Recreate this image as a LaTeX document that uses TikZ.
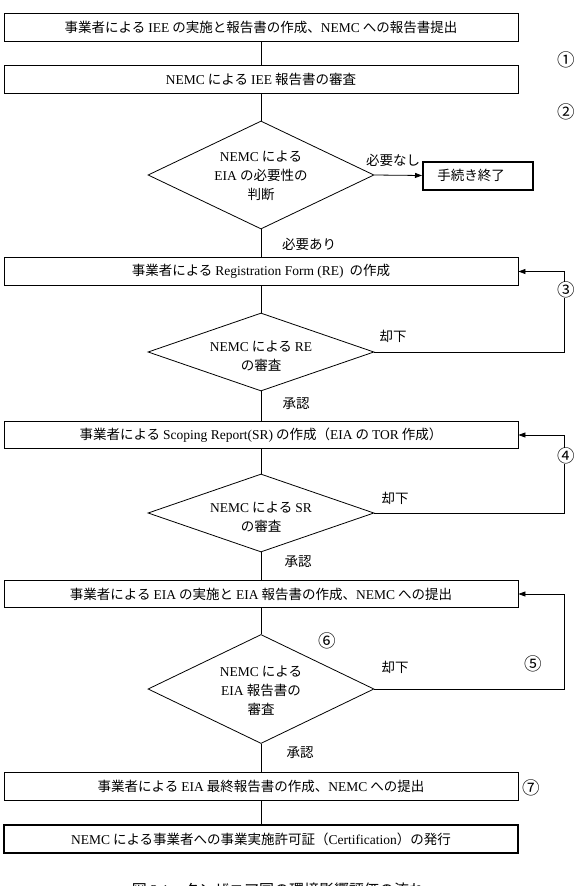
\documentclass[tikz,border=0pt]{standalone}
\usepackage{fontspec}
\setmainfont{Noto Sans CJK JP}
\newfontfamily\lat{Liberation Serif}
\newcommand\LT[1]{{\lat #1}}
\usetikzlibrary{shapes.geometric,arrows.meta}
\begin{document}
\begin{tikzpicture}[x=1pt,y=-1pt,
  font=\fontsize{13.5}{19}\selectfont,
  line width=0.8pt,
  proc/.style={draw, minimum width=514pt, minimum height=27.5pt, inner sep=0pt},
  procthick/.style={proc, line width=2pt},
  dia/.style={draw, diamond, inner sep=0pt, minimum width=226pt},
  dtext/.style={align=center, inner sep=0pt},
  lbl/.style={inner sep=0pt},
  num/.style={inner sep=0pt, font=\fontsize{17.5}{19}\selectfont},
  arr/.style={-{Triangle[length=7pt,width=5pt]}}]
\useasboundingbox (0,0) rectangle (576,886);

% boxes
\node[proc] (b1) at (261,27.5) {事業者による \LT{IEE} の実施と報告書の作成、\LT{NEMC} への報告書提出};
\node[proc] (b2) at (261,79.5) {\LT{NEMC} による \LT{IEE} 報告書の審査};
\node[dia, minimum height=108pt] (d1) at (261,175) {};
\node[dtext] (t1) at (261,176) {\LT{NEMC} による\\\LT{EIA} の必要性の\\判断};
\node[draw, line width=2pt, minimum width=110pt, minimum height=28pt, inner sep=0pt] (end) at (478,175.5) {};
\node[lbl] (endt) at (471,175.5) {手続き終了};
\node[proc] (b3) at (261,271.5) {事業者による \LT{Registration Form (RE)}\ \ の作成};
\node[dia, minimum height=78pt] (d2) at (261,352) {};
\node[dtext] (t2) at (261,356) {\LT{NEMC} による \LT{RE}\\の審査};
\node[proc] (b4) at (261,435) {事業者による \LT{Scoping Report(SR)}\ の作成（\LT{EIA} の \LT{TOR} 作成）};
\node[dia, minimum height=78pt] (d3) at (261,513) {};
\node[dtext] (t3) at (261,517) {\LT{NEMC} による \LT{SR}\\の審査};
\node[proc] (b5) at (261,594) {事業者による \LT{EIA} の実施と \LT{EIA} 報告書の作成、\LT{NEMC} への提出};
\node[dia, minimum height=109pt] (d4) at (261,689) {};
\node[dtext] (t4) at (261,691) {\LT{NEMC} による\\\LT{EIA} 報告書の\\審査};
\node[proc] (b6) at (261,786.5) {事業者による \LT{EIA} 最終報告書の作成、\LT{NEMC} への提出};
\node[procthick] (b7) at (261,839) {\LT{NEMC} による事業者への事業実施許可証（\LT{Certification}）の発行};

% connectors
\coordinate (r) at (564,0);
\draw (b1.south) -- (b2.north);
\draw (b2.south) -- (d1.north);
\draw[arr] (d1.east) -- (end.west);
\draw (d1.south) -- (b3.north);
\draw (b3.south) -- (d2.north);
\draw[arr] (d2.east) -- (d2.east -| r) |- (b3.east);
\draw (d2.south) -- (b4.north);
\draw (b4.south) -- (d3.north);
\draw[arr] (d3.east) -- (d3.east -| r) |- (b4.east);
\draw (d3.south) -- (b5.north);
\draw (b5.south) -- (d4.north);
\draw[arr] (d4.east) -- (d4.east -| r) |- (b5.east);
\draw (d4.south) -- (b6.north);
\draw (b6.south) -- (b7.north);

% labels
\node[lbl] (nn) at (393,160.5) {必要なし};
\node[lbl] (na) at (309,244) {必要あり};
\node[lbl] (k1) at (393,336.5) {却下};
\node[lbl] (s1) at (296,403.5) {承認};
\node[lbl] (k2) at (395,498) {却下};
\node[lbl] (s2) at (298,562) {承認};
\node[lbl] (k3) at (395,667.5) {却下};
\node[lbl] (s3) at (300,753) {承認};
\node[num] (c1) at (566,60) {①};
\node[num] (c2) at (566,112) {②};
\node[num, fill=white] (c3) at (566,290) {③};
\node[num, fill=white] (c4) at (566,456) {④};
\node[num] (c5) at (533,664) {⑤};
\node[num] (c6) at (327,641) {⑥};
\node[num] (c7) at (531,788) {⑦};

% caption (cut off by the page edge, as in the reference)
\node[lbl, anchor=base, font=\fontsize{15}{18}\selectfont] (cap) at (278,895) {図 \LT{3.1}　タンザニア国の環境影響評価の流れ};
\end{tikzpicture}
\end{document}
